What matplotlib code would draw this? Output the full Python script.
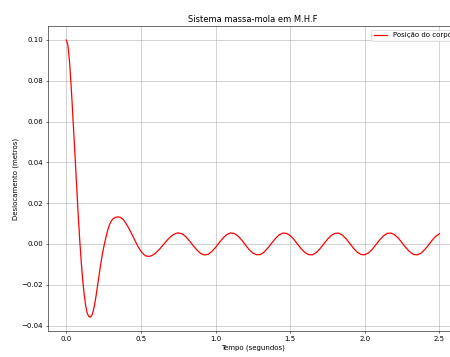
import matplotlib
matplotlib.use("Agg")
import matplotlib.pyplot as plt

# Time (s) and displacement (m)
tempo_inicial = [0.00, 0.01, 0.02, 0.03, 0.04, 0.05, 0.06, 0.07, 0.08, 0.09,
                 0.10, 0.11, 0.12, 0.13, 0.14, 0.15, 0.16, 0.17, 0.18, 0.19,
                 0.20, 0.21, 0.22, 0.23, 0.24, 0.25, 0.26, 0.27, 0.28, 0.29,
                 0.30, 0.31, 0.32, 0.33, 0.34, 0.35, 0.36, 0.37, 0.38, 0.39,
                 0.40, 0.41, 0.42, 0.43, 0.44, 0.45, 0.46, 0.47, 0.48, 0.49,
                 0.50, 0.51, 0.52, 0.53, 0.54, 0.55, 0.56, 0.57, 0.58, 0.59,
                 0.60, 0.61, 0.62, 0.63, 0.64, 0.65, 0.66, 0.67, 0.68, 0.69,
                 0.70, 0.71, 0.72, 0.73, 0.74]
desloc_inicial = [0.1000, 0.0975, 0.0905, 0.0800, 0.0675, 0.0540, 0.0400, 0.0265, 0.0135, 0.0015,
                  -0.0090, -0.0180, -0.0250, -0.0305, -0.0340, -0.0355, -0.0359, -0.0352, -0.0330, -0.0295,
                  -0.0250, -0.0200, -0.0150, -0.0100, -0.0055, -0.0018, 0.0016, 0.0047, 0.0074, 0.0096,
                  0.0111, 0.0121, 0.0127, 0.0131, 0.0132, 0.0132, 0.0131, 0.0126, 0.0120, 0.0111,
                  0.0100, 0.0088, 0.0075, 0.0061, 0.0046, 0.0031, 0.0016, 0.0001, -0.0013, -0.0025,
                  -0.0036, -0.0045, -0.0052, -0.0058, -0.0060, -0.0061, -0.0060, -0.0058, -0.0054, -0.0049,
                  -0.0043, -0.0036, -0.0029, -0.0021, -0.0012, -0.0004, 0.0005, 0.0014, 0.0022, 0.0029,
                  0.0036, 0.0042, 0.0047, 0.0050, 0.0053]

tempo_final = [0.750, 0.775, 0.800, 0.825, 0.850, 0.875, 0.900, 0.925, 0.950, 0.975,
               1.000, 1.025, 1.050, 1.075, 1.100, 1.125, 1.150, 1.175, 1.200, 1.225,
               1.250, 1.275, 1.300, 1.325, 1.350, 1.375, 1.400, 1.425, 1.450, 1.475,
               1.500, 1.525, 1.550, 1.575, 1.600, 1.625, 1.650, 1.675, 1.700, 1.725,
               1.750, 1.775, 1.800, 1.825, 1.850, 1.875, 1.900, 1.925, 1.950, 1.975,
               2.000, 2.025, 2.050, 2.075, 2.100, 2.125, 2.150, 2.175, 2.200, 2.225,
               2.250, 2.275, 2.300, 2.325, 2.350, 2.375, 2.400, 2.425, 2.450, 2.475,
               2.500]
desloc_final = [0.0054, 0.0050, 0.0036, 0.0015, -0.0008, -0.0030, -0.0047, -0.0054, -0.0051, -0.0037,
                -0.0017, 0.0007, 0.0029, 0.0046, 0.0054, 0.0051, 0.0039, 0.0019, -0.0005, -0.0028,
                -0.0045, -0.0053, -0.0052, -0.0040, -0.0020, 0.0003, 0.0026, 0.0044, 0.0053, 0.0052,
                0.0041, 0.0022, -0.0002, -0.0025, -0.0043, -0.0053, -0.0053, -0.0042, -0.0023, 0.0000,
                0.0023, 0.0042, 0.0052, 0.0053, 0.0043, 0.0025, 0.0002, -0.0022, -0.0041, -0.0052,
                -0.0053, -0.0044, -0.0026, -0.0003, 0.0020, 0.0040, 0.0052, 0.0053, 0.0045, 0.0028,
                0.0005, -0.0018, -0.0038, -0.0051, -0.0054, -0.0046, -0.0029, -0.0007, 0.0017, 0.0037,
                0.0050]

tempo = tempo_inicial + tempo_final
deslocamento = desloc_inicial + desloc_final

titulo = "Sistema massa-mola em M.H.F"
rotulo_x = "Tempo (segundos)"
rotulo_y = "Deslocamento (metros)"
legenda = "Posição do corpo"

fig = plt.figure(figsize=(9, 7.14), dpi=50)
ax = fig.add_axes([0.106, 0.0728, 0.912, 0.854])
ax.plot(tempo, deslocamento, color="red", linewidth=1.8, label=legenda)
ax.set_title(titulo)
ax.set_xlabel(rotulo_x)
ax.set_ylabel(rotulo_y)
ax.grid(True)
ax.legend(loc="upper right")
fig.savefig("out.png", dpi=50)
